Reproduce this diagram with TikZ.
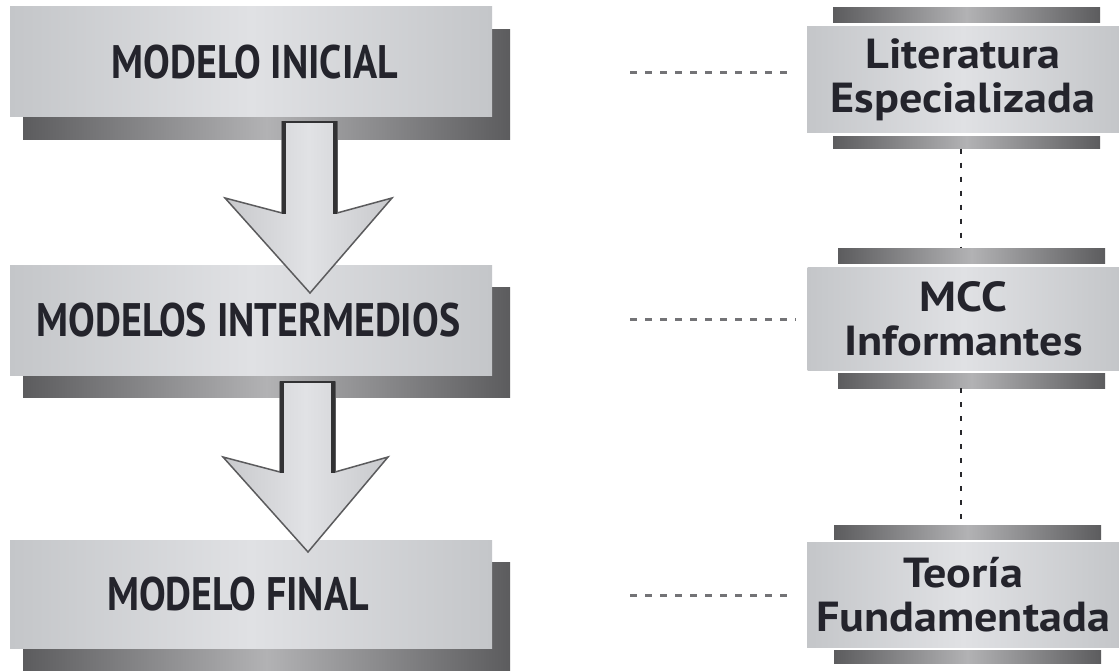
\documentclass[tikz,border=0pt]{standalone}
\usepackage{graphicx}
\usepackage{fontspec}
\setmainfont{PT Sans}
\definecolor{boxA}{RGB}{196,198,201}
\definecolor{boxB}{RGB}{224,225,228}
\definecolor{shA}{RGB}{92,92,94}
\definecolor{shB}{RGB}{178,178,180}
\definecolor{txt}{RGB}{36,36,44}
\definecolor{dashH}{RGB}{115,115,118}
\definecolor{dashV}{RGB}{40,40,44}
\definecolor{arrF}{RGB}{200,201,204}
\definecolor{arrL}{RGB}{225,226,229}
\definecolor{arrD}{RGB}{50,50,52}
\newcommand{\narrow}[1]{\scalebox{0.85}[1]{#1}}
\newcommand{\widen}[1]{\scalebox{1.1}[1]{#1}}
\begin{document}
\begin{tikzpicture}[x=1pt,y=-1pt,
  mainbox/.style={rectangle, inner sep=0pt, minimum width=482pt, minimum height=110pt,
    left color=boxA, right color=boxA, middle color=boxB, text=txt,
    font=\bfseries\fontsize{47}{50}\selectfont},
  sidebox/.style={rectangle, inner sep=0pt, minimum width=312pt,
    left color=boxA, right color=boxA, middle color=boxB, text=txt, align=center,
    font=\bfseries\fontsize{42}{44}\selectfont},
  metalbar/.style={rectangle, inner sep=0pt, minimum width=267pt,
    left color=shA, right color=shA, middle color=shB},
  shadowfill/.style={left color=shA, right color=shA, middle color=shB},
  linkH/.style={draw=dashH, line width=3pt, dash pattern=on 7pt off 8pt},
  linkV/.style={draw=dashV, line width=2pt, dash pattern=on 5pt off 9pt},
  blockarrow/.style={draw=arrD!80, line width=1.5pt, line join=miter,
    left color=arrF, right color=arrF, middle color=arrL},
  shaftedge/.style={draw=arrD, line width=4.5pt}
]
\useasboundingbox (0,0) rectangle (1119,671);
\fill[white] (0,0) rectangle (1119,671);

% shadows of the left boxes
\fill[shadowfill] (23,30) rectangle (510,140);
\fill[shadowfill] (23,287) rectangle (510,397);
\fill[shadowfill] (23,562) rectangle (510,671);

% left boxes
\node[mainbox] (m1) at (251,62) {\hspace*{8pt}\narrow{MODELO INICIAL}};
\node[mainbox] (m2) at (251,320) {\narrow{MODELOS INTERMEDIOS}\hspace*{5pt}};
\node[mainbox, minimum height=108pt] (m3) at (251,594) {\narrow{MODELO FINAL}\hspace*{26pt}};

% right boxes
\node[metalbar, minimum height=15pt] (r1t) at (966.5,15.5) {};
\node[sidebox, minimum height=106pt] (r1) at (963,80) {\widen{Literatura}\\\widen{Especializada}};
\node[metalbar, minimum height=12pt] (r1b) at (966.5,142.5) {};

\node[metalbar, minimum height=15pt] (r2t) at (971.5,255.5) {};
\node[sidebox, minimum height=103pt] (r2) at (963.5,318.5) {\widen{MCC}\\\widen{Informantes}};
\node[metalbar, minimum height=15pt] (r2b) at (971.5,380.5) {};

\node[metalbar, minimum height=14pt] (r3t) at (967.5,532) {};
\node[sidebox, minimum height=105pt] (r3) at (963,594.5) {\widen{Teoría}\\\widen{Fundamentada}};
\node[metalbar, minimum height=13pt] (r3b) at (967.5,656.5) {};

% horizontal dashed links
\draw[linkH, shorten <=138pt, shorten >=12pt] ([yshift=-11pt]m1.east) -- ([yshift=-11pt]m1.east -| r1.west);
\draw[linkH, shorten <=138pt, shorten >=12pt] ([yshift=1pt]m2.east) -- ([yshift=1pt]m2.east -| r2.west);
\draw[linkH, shorten <=138pt, shorten >=12pt] ([yshift=-1pt]m3.east) -- ([yshift=-1pt]m3.east -| r3.west);

% vertical dashed links
\draw[linkV] ([xshift=-5.5pt]r1b.south) -- ([xshift=-5.5pt]r1b.south |- r2t.north);
\draw[linkV] ([xshift=-10.5pt]r2b.south) -- ([xshift=-10.5pt]r2b.south |- r3t.north);

% block arrows
\path[blockarrow] (282,122) -- (337,122) -- (337,213) -- (392,198) -- (310,293) -- (225,198) -- (282,213) -- cycle;
\draw[shaftedge] (284,121) -- (284,214);
\draw[shaftedge] (335,121) -- (335,214);
\draw[arrD, line width=2pt] (282,122) -- (337,122);

\path[blockarrow] (280,382) -- (335,382) -- (335,472) -- (388,457) -- (308,552) -- (223,457) -- (280,472) -- cycle;
\draw[shaftedge] (282,381) -- (282,473);
\draw[shaftedge] (333,381) -- (333,473);
\draw[arrD, line width=2pt] (280,382) -- (335,382);
\end{tikzpicture}
\end{document}
